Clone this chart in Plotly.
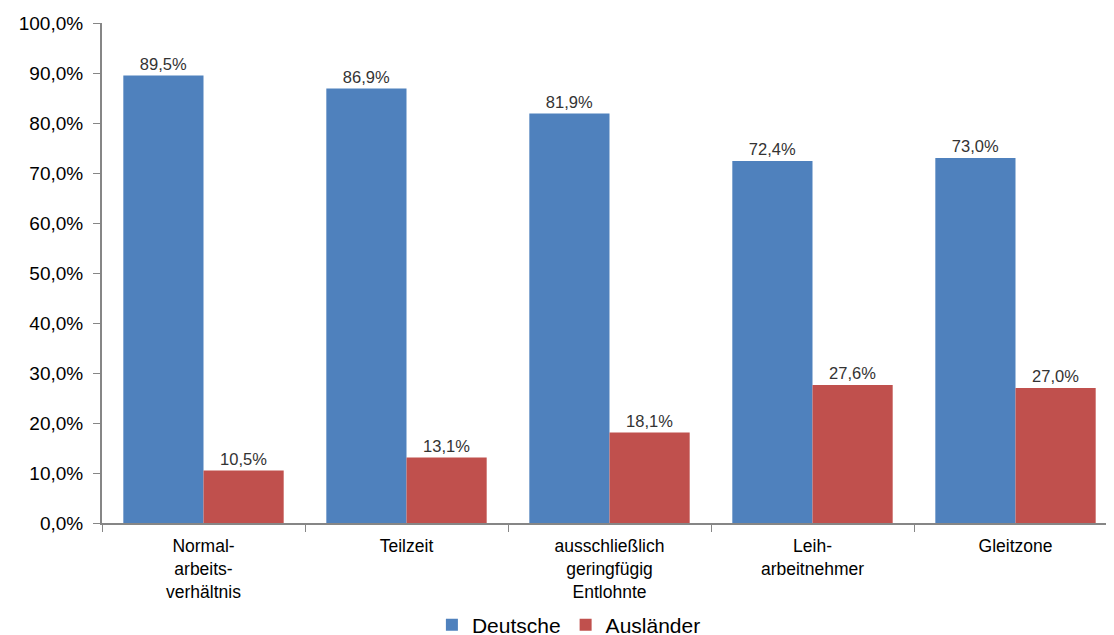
import plotly.graph_objects as go

# Anteile nach Beschäftigungsform
kategorien = ["Normal-<br>arbeits-<br>verhältnis", "Teilzeit",
              "ausschließlich<br>geringfügig<br>Entlohnte",
              "Leih-<br>arbeitnehmer", "Gleitzone"]
deutsche = [89.5, 86.9, 81.9, 72.4, 73.0]
auslaender = [10.5, 13.1, 18.1, 27.6, 27.0]
y_ticks = [0, 10, 20, 30, 40, 50, 60, 70, 80, 90, 100]
y_labels = [f"{v:.1f}%".replace(".", ",") for v in y_ticks]

FONT = "Liberation Sans, Arial, sans-serif"

fig = go.Figure()
fig.add_trace(go.Bar(
    x=kategorien, y=deutsche, name="Deutsche",
    marker=dict(color="#4F81BD", line=dict(width=0)),
    texttemplate="%{y:.1f}%", textposition="outside",
    textfont=dict(size=16.5, color="#333333", family=FONT),
    cliponaxis=False,
))
fig.add_trace(go.Bar(
    x=kategorien, y=auslaender, name="Ausländer",
    marker=dict(color="#C0504D", line=dict(width=0)),
    texttemplate="%{y:.1f}%", textposition="outside",
    textfont=dict(size=16.5, color="#333333", family=FONT),
    cliponaxis=False,
))

# body has an 8px default margin, so the margins are shifted by that
fig.update_layout(
    width=1114, height=635,
    margin=dict(l=94, r=5, t=15, b=120, autoexpand=False),
    barmode="group",
    bargap=0.21,
    bargroupgap=0,
    separators=",.",
    paper_bgcolor="white",
    plot_bgcolor="white",
    font=dict(family=FONT, color="black"),
    xaxis=dict(
        range=[-0.5, 4.5],
        tickson="boundaries",
        ticks="outside", ticklen=7, tickcolor="#868686",
        showline=True, linecolor="#868686", linewidth=2,
        tickfont=dict(size=17.5),
        ticklabelstandoff=6,
    ),
    yaxis=dict(
        range=[0, 100],
        tickvals=y_ticks, ticktext=y_labels,
        ticks="outside", ticklen=7, tickcolor="#868686",
        showline=True, linecolor="#868686", linewidth=2,
        showgrid=False, zeroline=False,
        tickfont=dict(size=19),
        ticklabelstandoff=6,
    ),
    legend=dict(
        orientation="h", x=0.46, xanchor="center",
        yref="container", y=0.028, yanchor="middle",
        bgcolor="rgba(0,0,0,0)",
        font=dict(size=21),
        itemwidth=30,
    ),
    showlegend=True,
)

fig.write_html("out.html")
